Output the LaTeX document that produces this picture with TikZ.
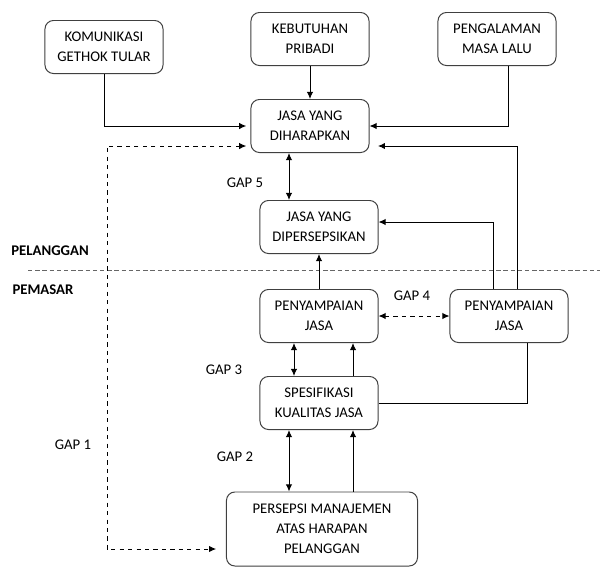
\documentclass[tikz,border=0pt]{standalone}
\usepackage{fontspec}
\setmainfont{Carlito}
\usetikzlibrary{arrows.meta,calc}
\tikzset{
  box/.style={draw=black!75,rounded corners=6pt,fill=white,align=center,minimum width=2.95cm,minimum height=1.325cm,inner sep=2pt},
  gaplabel/.style={inner sep=0pt},
  >={Latex[length=5pt,width=4.5pt]}
}
\begin{document}
\fontsize{10.5}{14.2}\selectfont
\begin{tikzpicture}[x=0.025cm,y=-0.025cm,line width=0.7pt]
                    \useasboundingbox (0,0) rectangle (600,567);

                    \node[box] (kom) at (104,47) {KOMUNIKASI\\GETHOK TULAR};
                    \node[box] (keb) at (310,39) {KEBUTUHAN\\PRIBADI};
                    \node[box] (peng) at (497,39) {PENGALAMAN\\MASA LALU};
                    \node[box] (dih) at (310,126) {JASA YANG\\DIHARAPKAN};
                    \node[box] (dip) at (319,227) {JASA YANG\\DIPERSEPSIKAN};
                    \node[box] (pja) at (319,316) {PENYAMPAIAN\\JASA};
                    \node[box] (pjb) at (509,316) {PENYAMPAIAN\\JASA};
                    \node[box] (spe) at (319,403) {SPESIFIKASI\\KUALITAS JASA};
                    \node[box,minimum width=4.775cm,minimum height=1.85cm] (pers) at (322,529) {PERSEPSI MANAJEMEN\\ATAS HARAPAN\\PELANGGAN};

                    \node[gaplabel,font=\bfseries] (plg) at (50,251) {PELANGGAN};
                    \node[gaplabel,font=\bfseries] (pms) at (43,290) {PEMASAR};
                    \node[gaplabel] (gapa) at (73,445) {GAP 1};
                    \node[gaplabel] (gapb) at (235,457) {GAP 2};
                    \node[gaplabel] (gapc) at (224,370) {GAP 3};
                    \node[gaplabel] (gapd) at (412,296) {GAP 4};
                    \node[gaplabel] (gape) at (245,183) {GAP 5};

                    \coordinate (sepl) at (28,270);
                    \coordinate (sepr) at (600,270);
                    \coordinate (gapone) at (107,549);

                    % garis batas pelanggan / pemasar
                    \draw[black!60,dash pattern=on 0.11cm off 0.07cm] (sepl) -- (sepr);

                    % harapan pelanggan
                    \draw[->,shorten >=3pt] (kom) |- (dih);
                    \draw[->] (keb) -- (dih);
                    \draw[->] ([xshift=0.275cm]peng.south) |- (dih.east);
                    \draw[->,shorten >=6pt] ([xshift=0.2cm]pjb.north) |- ([yshift=-0.5cm]dih.east);
                    \draw[->] ([xshift=-0.4cm]pjb.north) |- ([yshift=0.125cm]dip.east);

                    % gap
                    \draw[<->,dashed,shorten <=3pt,shorten >=7pt] ([yshift=-0.5cm]dih.west) -| (gapone) -- (gapone -| pers.west);
                    \draw[<->] ([xshift=-0.75cm]spe.south) -- ([xshift=-0.75cm]spe.south |- pers.north);
                    \draw[<->] ([xshift=-0.625cm]spe.north) -- ([xshift=-0.625cm]pja.south);
                    \draw[<->,dashed] (pja) -- (pjb);
                    \draw[<->] ([xshift=-0.525cm]dih.south) -- ([xshift=-0.525cm]dih.south |- dip.north);

                    % alur pemasar
                    \draw[->] ([xshift=0.85cm]spe.south |- pers.north) -- ([xshift=0.85cm]spe.south);
                    \draw[->] ([xshift=0.85cm]pja.south |- spe.north) -- ([xshift=0.85cm]pja.south);
                    \draw[->] (pja) -- (dip);
                    \draw (spe) -| ([xshift=0.45cm]pjb.south);
                \end{tikzpicture}
\end{document}
